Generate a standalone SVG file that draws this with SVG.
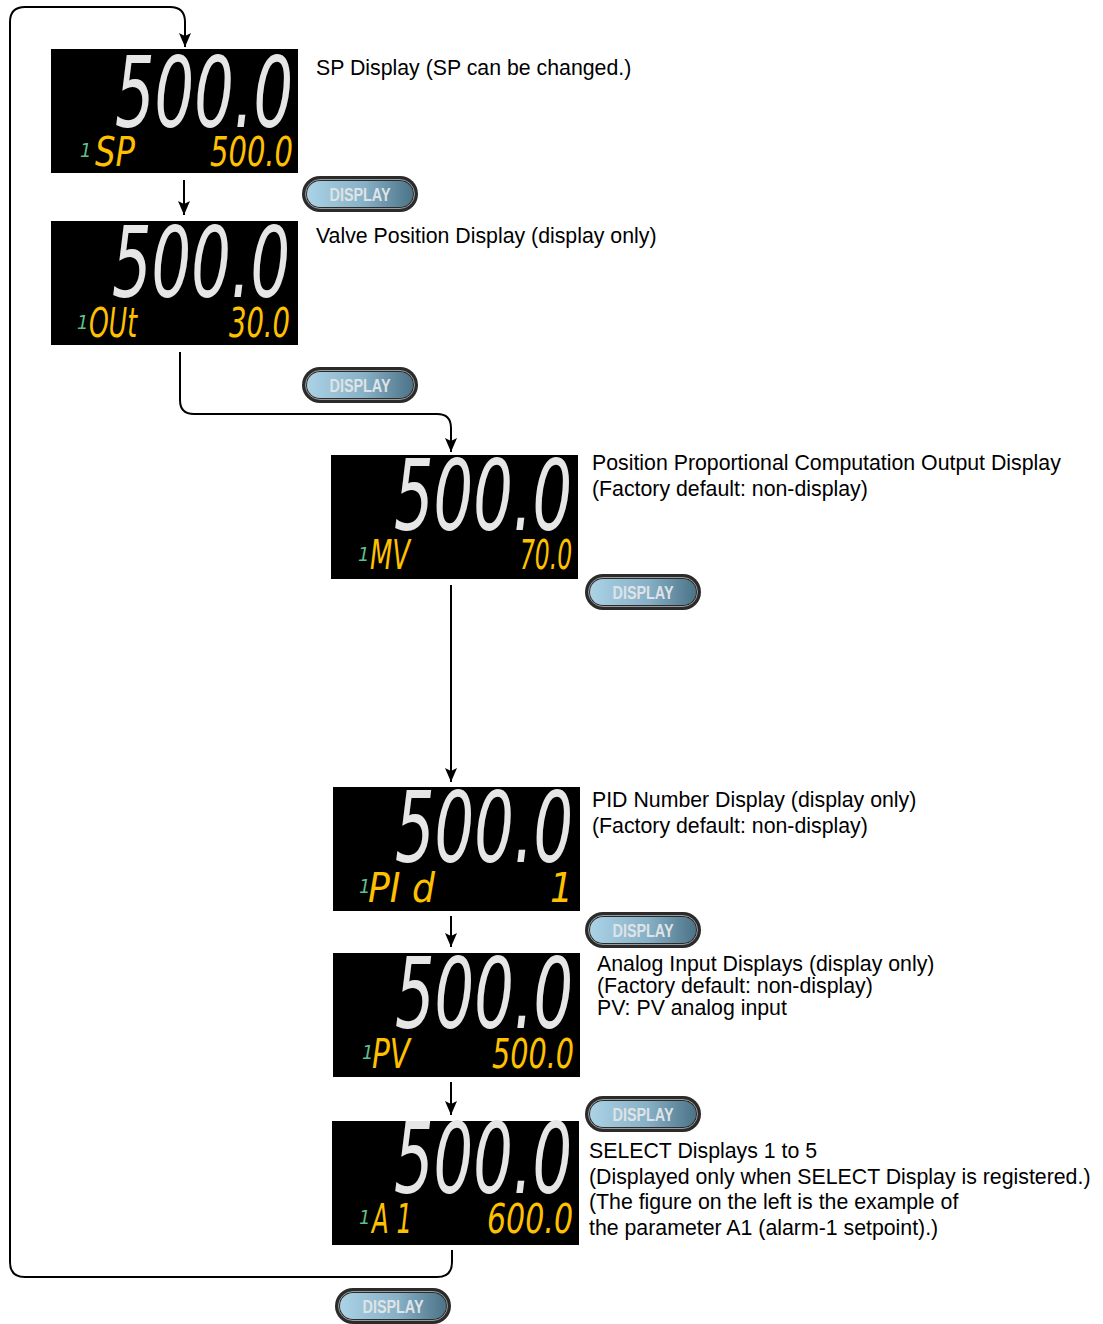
<svg xmlns="http://www.w3.org/2000/svg" width="1103" height="1324" viewBox="0 0 1103 1324">
<style>
.lcd{fill:#000}
.seg{font-family:"Liberation Sans Narrow","DejaVu Sans Condensed","Liberation Sans",sans-serif;font-style:italic}
.big{font-size:87px;fill:#e6e6e6}
.amb{font-size:40px;fill:#ffc000}
.grn{font-size:20px;fill:#5fbf8c}
.lbl{font-family:"Liberation Sans",Arial,sans-serif;font-size:21.3px;fill:#000}
.btxt{font-family:"Liberation Sans",Arial,sans-serif;font-weight:bold;font-size:18px;fill:#dfe3e6}
.conn{fill:none;stroke:#000;stroke-width:2}
.ring{fill:#2b2b2b}
.ring2{fill:none;stroke:#9a9a9a;stroke-width:1}
.face{fill:url(#bg)}
</style>
<defs>
<linearGradient id="bg" x1="0" y1="0" x2="1" y2="0">
<stop offset="0" stop-color="#abd2e5"/>
<stop offset="0.55" stop-color="#86b0c6"/>
<stop offset="1" stop-color="#4c7388"/>
</linearGradient>
<marker id="ad" viewBox="0 0 14 12" refX="14" refY="6" markerWidth="14" markerHeight="12" markerUnits="userSpaceOnUse" orient="auto">
<path d="M0,0 L14,6 L0,12 L3,6 Z" fill="#000"/>
</marker>
</defs>

<g id="connectors">
<path class="conn" d="M452,1250 V1262 Q452,1277 437,1277 H25 Q10,1277 10,1262 V22 Q10,7 25,7 H170 Q185,7 185,22 V47" marker-end="url(#ad)"/>
<path class="conn" d="M184,180 V215" marker-end="url(#ad)"/>
<path class="conn" d="M180,352 V400 Q180,414 194,414 H437 Q451,414 451,428 V452" marker-end="url(#ad)"/>
<path class="conn" d="M451,585 V782" marker-end="url(#ad)"/>
<path class="conn" d="M451,916 V947" marker-end="url(#ad)"/>
<path class="conn" d="M451,1082 V1115" marker-end="url(#ad)"/>
</g>

<g id="sp-display">
<rect class="lcd" x="51" y="49" width="247" height="124"/>
<text class="seg big" transform="translate(293,127) scale(1,1.13)" text-anchor="end" textLength="178" lengthAdjust="spacingAndGlyphs">500.0</text>
<text class="seg grn" x="80" y="157">1</text>
<text class="seg amb" x="95" y="166" textLength="40" lengthAdjust="spacingAndGlyphs">SP</text>
<text class="seg amb" x="293" y="166" text-anchor="end" textLength="83" lengthAdjust="spacingAndGlyphs">500.0</text>
</g>
<g id="sp-label"><text class="lbl" x="316" y="75">SP Display (SP can be changed.)</text></g>

<g id="btn1">
<rect class="ring" x="302" y="176" width="116" height="36" rx="18"/>
<rect class="ring2" x="305.5" y="179.5" width="109" height="29" rx="14.5"/>
<rect class="face" x="307" y="181" width="106" height="26" rx="13"/>
<text class="btxt" transform="translate(360,200.5) scale(0.8,1)" text-anchor="middle">DISPLAY</text>
</g>

<g id="out-display">
<rect class="lcd" x="51" y="221" width="247" height="124"/>
<text class="seg big" transform="translate(290,297) scale(1,1.13)" text-anchor="end" textLength="178" lengthAdjust="spacingAndGlyphs">500.0</text>
<text class="seg grn" x="77" y="329">1</text>
<text class="seg amb" x="89" y="337" textLength="48" lengthAdjust="spacingAndGlyphs">OUt</text>
<text class="seg amb" x="290" y="337" text-anchor="end" textLength="61" lengthAdjust="spacingAndGlyphs">30.0</text>
</g>
<g id="out-label"><text class="lbl" x="316" y="243">Valve Position Display (display only)</text></g>

<g id="btn2">
<rect class="ring" x="302" y="367" width="116" height="36" rx="18"/>
<rect class="ring2" x="305.5" y="370.5" width="109" height="29" rx="14.5"/>
<rect class="face" x="307" y="372" width="106" height="26" rx="13"/>
<text class="btxt" transform="translate(360,391.5) scale(0.8,1)" text-anchor="middle">DISPLAY</text>
</g>

<g id="mv-display">
<rect class="lcd" x="331" y="455" width="247" height="124"/>
<text class="seg big" transform="translate(572,530) scale(1,1.13)" text-anchor="end" textLength="178" lengthAdjust="spacingAndGlyphs">500.0</text>
<text class="seg grn" x="358" y="561">1</text>
<text class="seg amb" x="370" y="569" textLength="40" lengthAdjust="spacingAndGlyphs">MV</text>
<text class="seg amb" x="572" y="569" text-anchor="end" textLength="52" lengthAdjust="spacingAndGlyphs">70.0</text>
</g>
<g id="mv-label">
<text class="lbl" x="592" y="470">Position Proportional Computation Output Display</text>
<text class="lbl" x="592" y="496">(Factory default: non-display)</text>
</g>

<g id="btn3">
<rect class="ring" x="585" y="574" width="116" height="36" rx="18"/>
<rect class="ring2" x="588.5" y="577.5" width="109" height="29" rx="14.5"/>
<rect class="face" x="590" y="579" width="106" height="26" rx="13"/>
<text class="btxt" transform="translate(643,598.5) scale(0.8,1)" text-anchor="middle">DISPLAY</text>
</g>

<g id="pid-display">
<rect class="lcd" x="333" y="787" width="247" height="124"/>
<text class="seg big" transform="translate(573,862) scale(1,1.13)" text-anchor="end" textLength="178" lengthAdjust="spacingAndGlyphs">500.0</text>
<text class="seg grn" x="359" y="893">1</text>
<text class="seg amb" x="368" y="902" textLength="67" lengthAdjust="spacingAndGlyphs">PI d</text>
<text class="seg amb" x="573" y="902" text-anchor="end">1</text>
</g>
<g id="pid-label">
<text class="lbl" x="592" y="807">PID Number Display (display only)</text>
<text class="lbl" x="592" y="833">(Factory default: non-display)</text>
</g>

<g id="btn4">
<rect class="ring" x="585" y="912" width="116" height="36" rx="18"/>
<rect class="ring2" x="588.5" y="915.5" width="109" height="29" rx="14.5"/>
<rect class="face" x="590" y="917" width="106" height="26" rx="13"/>
<text class="btxt" transform="translate(643,936.5) scale(0.8,1)" text-anchor="middle">DISPLAY</text>
</g>

<g id="pv-display">
<rect class="lcd" x="333" y="953" width="247" height="124"/>
<text class="seg big" transform="translate(573,1028) scale(1,1.13)" text-anchor="end" textLength="178" lengthAdjust="spacingAndGlyphs">500.0</text>
<text class="seg grn" x="362" y="1059">1</text>
<text class="seg amb" x="372" y="1068" textLength="38" lengthAdjust="spacingAndGlyphs">PV</text>
<text class="seg amb" x="574" y="1068" text-anchor="end" textLength="82" lengthAdjust="spacingAndGlyphs">500.0</text>
</g>
<g id="pv-label">
<text class="lbl" x="597" y="971">Analog Input Displays (display only)</text>
<text class="lbl" x="597" y="993">(Factory default: non-display)</text>
<text class="lbl" x="597" y="1015">PV: PV analog input</text>
</g>

<g id="btn5">
<rect class="ring" x="585" y="1096" width="116" height="36" rx="18"/>
<rect class="ring2" x="588.5" y="1099.5" width="109" height="29" rx="14.5"/>
<rect class="face" x="590" y="1101" width="106" height="26" rx="13"/>
<text class="btxt" transform="translate(643,1120.5) scale(0.8,1)" text-anchor="middle">DISPLAY</text>
</g>

<g id="a1-display">
<rect class="lcd" x="332" y="1121" width="247" height="124"/>
<text class="seg big" transform="translate(572,1193) scale(1,1.13)" text-anchor="end" textLength="178" lengthAdjust="spacingAndGlyphs">500.0</text>
<text class="seg grn" x="359" y="1224">1</text>
<text class="seg amb" x="372" y="1233" textLength="40" lengthAdjust="spacingAndGlyphs">A 1</text>
<text class="seg amb" x="573" y="1233" text-anchor="end" textLength="86" lengthAdjust="spacingAndGlyphs">600.0</text>
</g>
<g id="a1-label">
<text class="lbl" x="589" y="1158">SELECT Displays 1 to 5</text>
<text class="lbl" x="589" y="1184">(Displayed only when SELECT Display is registered.)</text>
<text class="lbl" x="589" y="1209">(The figure on the left is the example of</text>
<text class="lbl" x="589" y="1235">the parameter A1 (alarm-1 setpoint).)</text>
</g>

<g id="btn6">
<rect class="ring" x="335" y="1288" width="116" height="36" rx="18"/>
<rect class="ring2" x="338.5" y="1291.5" width="109" height="29" rx="14.5"/>
<rect class="face" x="340" y="1293" width="106" height="26" rx="13"/>
<text class="btxt" transform="translate(393,1312.5) scale(0.8,1)" text-anchor="middle">DISPLAY</text>
</g>
</svg>
